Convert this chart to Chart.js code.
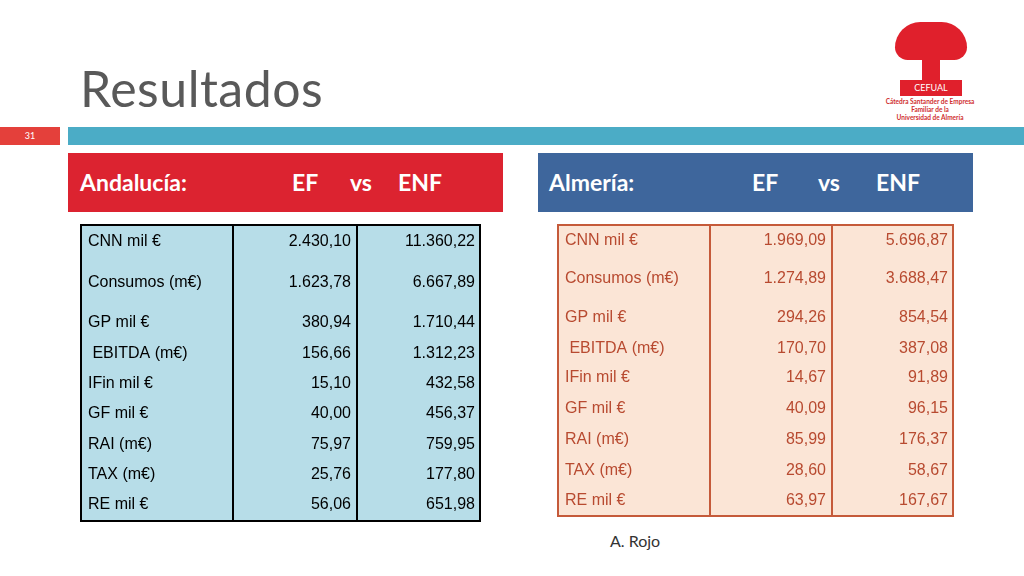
<!DOCTYPE html><html><head><meta charset="utf-8">
<script src="https://cdn.jsdelivr.net/npm/chart.js@4"></script>
<style>
body{margin:0;width:1024px;height:576px;background:#fff;position:relative;overflow:hidden;font-family:Lato,"Open Sans",sans-serif}
.a{position:absolute}
</style></head><body>
<div class="a" style="left:80px;top:58px;font-size:50px;color:#595959;letter-spacing:0.5px">Resultados</div>
<div class="a" style="left:0;top:127px;width:60px;height:18px;background:#e4403b;color:#fff;font-size:9px;text-align:center;line-height:18px">31</div>
<div class="a" style="left:68px;top:127px;width:956px;height:18px;background:#4bacc6"></div>
<div class="a" style="left:895px;top:22px;width:72px;height:38px;background:#e0202c;border-radius:40px 40px 20px 20px"></div>
<div class="a" style="left:922px;top:55px;width:18px;height:25px;background:#e0202c"></div>
<div class="a" style="left:900px;top:80px;width:62px;height:16px;background:#e0202c;color:#fff;font-size:9px;text-align:center;line-height:16px">CEFUAL</div>
<div class="a" style="left:870px;top:98px;width:120px;font-size:6.5px;color:#d03030;text-align:center;line-height:8px;font-weight:bold">Cátedra Santander de Empresa<br>Familiar de la<br>Universidad de Almería</div>
<div class="a" style="left:68px;top:153px;width:435px;height:59px;background:#dc2330;color:#fff;font-size:23px;font-weight:bold">
<span class="a" style="left:12px;top:15px">Andalucía:</span><span class="a" style="left:224px;top:15px">EF</span><span class="a" style="left:282px;top:15px">vs</span><span class="a" style="left:330px;top:15px">ENF</span></div>
<div class="a" style="left:538px;top:153px;width:435px;height:59px;background:#3e669c;color:#fff;font-size:23px;font-weight:bold">
<span class="a" style="left:11px;top:15px">Almería:</span><span class="a" style="left:214px;top:15px">EF</span><span class="a" style="left:280px;top:15px">vs</span><span class="a" style="left:338px;top:15px">ENF</span></div>
<div class="a" style="left:610px;top:531px;font-size:16px;color:#333">A. Rojo</div>
<div class="a" style="left:80px;top:224px;width:401px;height:298px"><canvas id="c1"></canvas></div>
<div class="a" style="left:557px;top:224px;width:397px;height:293px"><canvas id="c2"></canvas></div>
<script>
const rowLabelsAnd=["CNN mil €","Consumos (m€)","GP mil €"," EBITDA (m€)","IFin mil €","GF mil €","RAI (m€)","TAX (m€)","RE mil €"];
const andEF=["2.430,10","1.623,78","380,94","156,66","15,10","40,00","75,97","25,76","56,06"];
const andENF=["11.360,22","6.667,89","1.710,44","1.312,23","432,58","456,37","759,95","177,80","651,98"];
const rowLabelsAlm=["CNN mil €","Consumos (m€)","GP mil €"," EBITDA (m€)","IFin mil €","GF mil €","RAI (m€)","TAX (m€)","RE mil €"];
const almEF=["1.969,09","1.274,89","294,26","170,70","14,67","40,09","85,99","28,60","63,97"];
const almENF=["5.696,87","3.688,47","854,54","387,08","91,89","96,15","176,37","58,67","167,67"];
function table(id,labels,ef,enf,bg,border,txt,cols,yPos){
 const plugin={id:'tbl',beforeDraw(ch){const c=ch.ctx,w=ch.width,h=ch.height;c.save();c.fillStyle=bg;c.fillRect(0,0,w,h);c.restore();},
 afterDraw(ch){const c=ch.ctx,w=ch.width,h=ch.height,ys=ch.scales.y;c.save();
  c.strokeStyle=border;c.lineWidth=2;c.strokeRect(1,1,w-2,h-2);
  c.beginPath();c.moveTo(cols[0],0);c.lineTo(cols[0],h);c.moveTo(cols[1],0);c.lineTo(cols[1],h);c.stroke();
  c.fillStyle=txt;c.font='16px "Liberation Sans",Arial';c.textBaseline='middle';
  labels.forEach((l,i)=>{const y=ys.getPixelForValue(yPos[i]);c.textAlign='left';c.fillText(l,8,y);
   c.textAlign='right';c.fillText(ef[i],cols[1]-6,y);c.fillText(enf[i],w-6,y);});
  c.restore();}};
 new Chart(document.getElementById(id),{type:'scatter',data:{datasets:[{data:yPos.map(v=>({x:0,y:v})),pointRadius:0}]},
  options:{responsive:true,maintainAspectRatio:false,animation:false,layout:{padding:0},
  plugins:{legend:{display:false},tooltip:{enabled:false}},
  scales:{x:{display:false,min:0,max:1},y:{display:false,min:0,max:100,reverse:true}}},plugins:[plugin]});
}
const posAnd=[6,19.5,33,43.5,53.5,63.5,74,84,94];
const posAlm=[5.5,18.5,32,42.5,52.5,63,73.5,84,94.5];
table('c1',rowLabelsAnd,andEF,andENF,'#b7dde8','#000','#000',[153,277],posAnd);
table('c2',rowLabelsAlm,almEF,almENF,'#fbe5d6','#c55a3a','#b84a30',[153,275],posAlm);
</script></body></html>
